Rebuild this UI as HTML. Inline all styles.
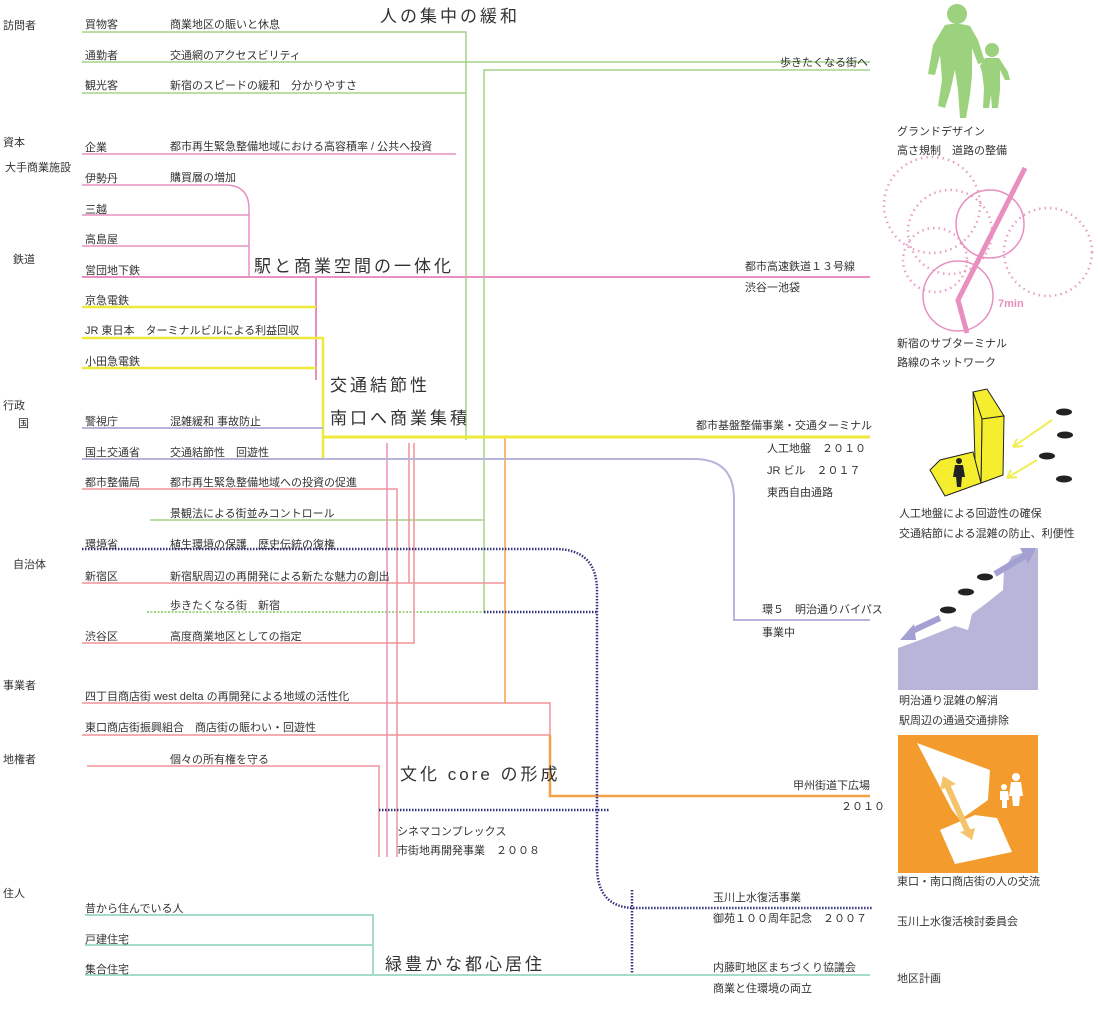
<!DOCTYPE html>
<html><head><meta charset="utf-8"><style>
html,body{margin:0;padding:0;background:#fff}
svg{display:block}
text{font-family:"Liberation Sans","Noto Sans CJK JP",sans-serif;font-size:11px;fill:#333}
.t{font-size:17px;letter-spacing:3px;fill:#333}
</style></head><body>
<svg width="1098" height="1012" viewBox="0 0 1098 1012" xmlns="http://www.w3.org/2000/svg">
<g fill="none" stroke-width="1.5">
<!-- green -->
<g stroke="#a3d486">
<path d="M82 32H466V440"/>
<path d="M82 62H870"/>
<path d="M82 93H466"/>
<path d="M484 612V70H870"/>
<path d="M150 520H484"/>
<path d="M147 612H484" stroke-dasharray="2 1.5" stroke-width="2"/>
</g>
<!-- pink -->
<g stroke="#e891c0">
<path d="M82 154H456"/>
<path d="M82 185H225Q249 185 249 209V277"/>
<path d="M82 215H249M82 246H249"/>
<path d="M82 277H870" stroke-width="2"/>
<path d="M316 277V380" stroke-width="2"/>
<path d="M387 443V857"/>
</g>
<!-- salmon -->
<g stroke="#f0929a">
<path d="M82 489H397V857"/>
<path d="M82 583H505M409 443V583"/>
<path d="M82 643H414V443"/>
<path d="M82 703H550V735M82 735H550"/>
<path d="M87 766H379V857"/>
</g>
<!-- orange -->
<g stroke="#f2a347">
<path d="M505 437V703"/>
<path d="M550 735V796H870" stroke-width="2.5"/>
</g>
<!-- yellow -->
<g stroke="#eeea3c" stroke-width="2.5">
<path d="M82 307H316M82 338H323V459M82 368H316"/>
<path d="M323 437H870" stroke-width="3"/>
</g>
<!-- lavender -->
<g stroke="#b7b5da" stroke-width="2">
<path d="M82 428H323"/>
<path d="M82 459H694Q734 459 734 499V620H870"/>
</g>
<!-- navy dotted -->
<g stroke="#34347e" stroke-width="2.5" stroke-dasharray="1.5 1.5">
<path d="M82 549H555Q597 549 597 591V866Q597 908 635 908H873"/>
<path d="M484 612H597"/>
<path d="M379 810H610"/>
<path d="M632 890V976"/>
</g>
<!-- teal -->
<g stroke="#a7dbc7" stroke-width="2">
<path d="M85 915H373V975M85 945H373M85 975H870"/>
</g>
</g>

<!-- category labels -->
<text x="3" y="29">訪問者</text>
<text x="3" y="146">資本</text>
<text x="5" y="171">大手商業施設</text>
<text x="13" y="263">鉄道</text>
<text x="3" y="409">行政</text>
<text x="18" y="427">国</text>
<text x="13" y="568">自治体</text>
<text x="3" y="689">事業者</text>
<text x="3" y="763">地権者</text>
<text x="3" y="897">住人</text>

<!-- row labels -->
<text x="85" y="28">買物客</text><text x="170" y="28">商業地区の賑いと休息</text>
<text x="85" y="59">通勤者</text><text x="170" y="59">交通網のアクセスビリティ</text>
<text x="85" y="89">観光客</text><text x="170" y="89">新宿のスピードの緩和　分かりやすさ</text>
<text x="85" y="151">企業</text><text x="170" y="150">都市再生緊急整備地域における高容積率 / 公共へ投資</text>
<text x="85" y="182">伊勢丹</text><text x="170" y="181">購買層の増加</text>
<text x="85" y="213">三越</text>
<text x="85" y="243">高島屋</text>
<text x="85" y="274">営団地下鉄</text>
<text x="85" y="304">京急電鉄</text>
<text x="85" y="334">JR 東日本　ターミナルビルによる利益回収</text>
<text x="85" y="365">小田急電鉄</text>
<text x="85" y="425">警視庁</text><text x="170" y="425">混雑緩和  事故防止</text>
<text x="85" y="456">国土交通省</text><text x="170" y="456">交通結節性　回遊性</text>
<text x="85" y="486">都市整備局</text><text x="170" y="486">都市再生緊急整備地域への投資の促進</text>
<text x="170" y="517">景観法による街並みコントロール</text>
<text x="85" y="548">環境省</text><text x="170" y="548">植生環境の保護　歴史伝統の復権</text>
<text x="85" y="580">新宿区</text><text x="170" y="580">新宿駅周辺の再開発による新たな魅力の創出</text>
<text x="170" y="609">歩きたくなる街　新宿</text>
<text x="85" y="640">渋谷区</text><text x="170" y="640">高度商業地区としての指定</text>
<text x="85" y="700">四丁目商店街  west delta の再開発による地域の活性化</text>
<text x="85" y="731">東口商店街振興組合　商店街の賑わい・回遊性</text>
<text x="170" y="763">個々の所有権を守る</text>
<text x="85" y="912">昔から住んでいる人</text>
<text x="85" y="943">戸建住宅</text>
<text x="85" y="973">集合住宅</text>

<!-- titles -->
<text class="t" x="380" y="22">人の集中の緩和</text>
<text class="t" x="254" y="272">駅と商業空間の一体化</text>
<text class="t" x="330" y="391">交通結節性</text>
<text class="t" x="330" y="424">南口へ商業集積</text>
<text class="t" x="400" y="780">文化 core の形成</text>
<text class="t" x="385" y="970">緑豊かな都心居住</text>

<!-- right side labels -->
<text x="868" y="66" text-anchor="end">歩きたくなる街へ</text>
<text x="745" y="270">都市高速鉄道１３号線</text>
<text x="745" y="291">渋谷一池袋</text>
<text x="872" y="429" text-anchor="end">都市基盤整備事業・交通ターミナル</text>
<text x="767" y="452">人工地盤　２０１０</text>
<text x="767" y="474">JR ビル　２０１７</text>
<text x="767" y="496">東西自由通路</text>
<text x="762" y="613">環５　明治通りバイパス</text>
<text x="762" y="636">事業中</text>
<text x="870" y="789" text-anchor="end">甲州街道下広場</text>
<text x="885" y="810" text-anchor="end">２０１０</text>
<text x="397" y="835">シネマコンプレックス</text>
<text x="397" y="854">市街地再開発事業　２００８</text>
<text x="713" y="901">玉川上水復活事業</text>
<text x="713" y="922">御苑１００周年記念　２００７</text>
<text x="713" y="971">内藤町地区まちづくり協議会</text>
<text x="713" y="992">商業と住環境の両立</text>

<!-- right captions -->
<text x="897" y="135">グランドデザイン</text>
<text x="897" y="154">高さ規制　道路の整備</text>
<text x="897" y="347">新宿のサブターミナル</text>
<text x="897" y="366">路線のネットワーク</text>
<text x="899" y="517">人工地盤による回遊性の確保</text>
<text x="899" y="537">交通結節による混雑の防止、利便性</text>
<text x="899" y="704">明治通り混雑の解消</text>
<text x="899" y="724">駅周辺の通過交通排除</text>
<text x="897" y="885">東口・南口商店街の人の交流</text>
<text x="897" y="925">玉川上水復活検討委員会</text>
<text x="897" y="982">地区計画</text>

<!-- green people -->
<g fill="#9cd27e">
<circle cx="957" cy="14" r="10"/>
<path d="M945 25Q957 22 970 26L978 40L985 62L978 64L972 48L972 75L970 95L966 118L960 118L958 90L955 70L950 92L945 108L938 106L942 80L940 55L935 75L928 74L933 45Z"/>
<circle cx="992" cy="50" r="7"/>
<path d="M985 58L999 58L1008 72L1010 80L1005 80L1000 70L1000 90L998 108L992 108L991 95L989 108L983 108L984 88L982 72L980 66Z"/>
</g>

<!-- circles -->
<g fill="none" stroke="#e8a0c4" stroke-width="2.5" stroke-dasharray="1.5 4">
<circle cx="932" cy="205" r="48"/>
<circle cx="950" cy="232" r="42"/>
<circle cx="935" cy="260" r="32"/>
<circle cx="1048" cy="252" r="44"/>
</g>
<g fill="none" stroke="#e88fc0" stroke-width="1.5">
<circle cx="990" cy="224" r="34"/>
<circle cx="958" cy="296" r="35"/>
</g>
<path d="M1025 168L958 300L967 333" fill="none" stroke="#e88fc0" stroke-width="5"/>
<text x="998" y="307" style="font-size:11px;font-weight:bold;fill:#e88fc0">7min</text>

<!-- yellow building -->
<g stroke="#222" stroke-width="1" fill="#f5ee2e">
<polygon points="973,392 987,389 1004,416 982,419"/>
<polygon points="982,419 1004,416 1003,475 981,483"/>
<polygon points="973,392 982,419 981,483 975,460"/>
<polygon points="930,470 940,460 973,452 981,483 945,496"/>
</g>
<g fill="#222">
<circle cx="959" cy="461" r="3"/>
<path d="M955 465h8l2 12h-3l-1 10h-4l-1-10h-3z"/>
<ellipse cx="1064" cy="412" rx="8" ry="3.5"/>
<ellipse cx="1065" cy="435" rx="8" ry="3.5"/>
<ellipse cx="1047" cy="456" rx="8" ry="3.5"/>
<ellipse cx="1064" cy="479" rx="8" ry="3.5"/>
</g>
<g stroke="#f0ee55" stroke-width="2" fill="none">
<path d="M1052 420L1013 447M1013 447l10 -1M1013 447l4 -8"/>
<path d="M1037 460L1007 478M1007 478l10 -1M1007 478l4 -8"/>
</g>

<!-- purple area -->
<polygon fill="#b7b5da" points="898,690 898,648 920,640 940,632 955,626 968,630 972,614 988,602 1003,590 1004,570 1012,556 1038,548 1038,690"/>
<g stroke="#a3a0d2" stroke-width="6" fill="none">
<path d="M995 574L1025 556"/>
<path d="M940 618L910 632"/>
</g>
<polygon fill="#a3a0d2" points="1020,548 1036,548 1028,564"/>
<polygon fill="#a3a0d2" points="900,640 914,624 916,640"/>
<g fill="#222">
<ellipse cx="948" cy="610" rx="8" ry="3.5"/>
<ellipse cx="966" cy="592" rx="8" ry="3.5"/>
<ellipse cx="985" cy="577" rx="8" ry="3.5"/>
</g>

<!-- orange square -->
<rect x="898" y="735" width="140" height="138" fill="#f39b2c"/>
<polygon fill="#fff" points="917,743 990,770 988,800 960,820 952,810"/>
<polygon fill="#fff" points="940,830 975,815 997,818 1012,852 955,864"/>
<path d="M947 785L968 832" stroke="#f5c46a" stroke-width="6"/>
<polygon fill="#f5c46a" points="940,790 943,776 956,784"/>
<polygon fill="#f5c46a" points="975,828 972,840 960,832"/>
<g fill="#fff">
<circle cx="1016" cy="777" r="4"/>
<path d="M1011 782h10l2 14h-3l-1 10h-6l-1-10h-3z"/>
<circle cx="1004" cy="787" r="3"/>
<path d="M1000 791h8l1 9h-2v8h-5v-8h-2z"/>
</g>
</svg>
</body></html>
